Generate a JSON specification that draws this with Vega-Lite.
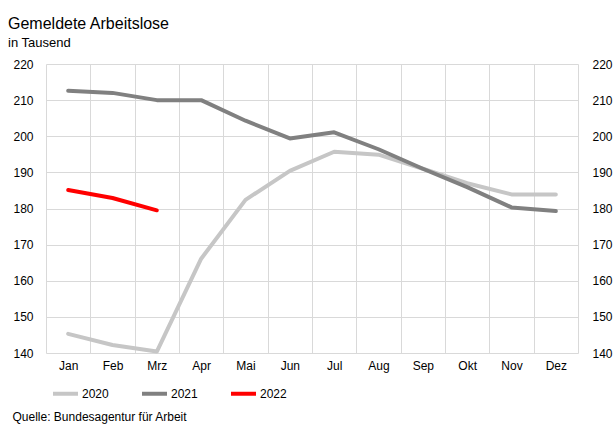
{
  "$schema": "https://vega.github.io/schema/vega-lite/v6.json",
  "autosize": "none",
  "width": 532,
  "height": 289,
  "padding": {"left": 46, "top": 64, "right": 36, "bottom": 79},
  "background": "white",
  "config": {
    "font": "Liberation Sans",
    "view": {"stroke": null},
    "axis": {"labelFont": "Liberation Sans", "labelColor": "#000", "labelFontSize": 12, "domain": false, "ticks": false, "gridColor": "#d9d9d9", "gridWidth": 1, "gridOpacity": 1}
  },
  "title": {
    "text": "Gemeldete Arbeitslose",
    "subtitle": "in Tausend",
    "anchor": "start",
    "frame": "group",
    "dx": -38,
    "offset": 8,
    "fontSize": 16,
    "fontWeight": "normal",
    "color": "#000",
    "subtitleFontSize": 13,
    "subtitleColor": "#000",
    "subtitlePadding": 5
  },
  "data": {
    "values": [
      {"Monat": "Jan", "Jahr": "2020", "Wert": 145.3},
      {"Monat": "Feb", "Jahr": "2020", "Wert": 142.2},
      {"Monat": "Mrz", "Jahr": "2020", "Wert": 140.4},
      {"Monat": "Apr", "Jahr": "2020", "Wert": 166.1},
      {"Monat": "Mai", "Jahr": "2020", "Wert": 182.4},
      {"Monat": "Jun", "Jahr": "2020", "Wert": 190.4},
      {"Monat": "Jul", "Jahr": "2020", "Wert": 195.7},
      {"Monat": "Aug", "Jahr": "2020", "Wert": 194.9},
      {"Monat": "Sep", "Jahr": "2020", "Wert": 191.0},
      {"Monat": "Okt", "Jahr": "2020", "Wert": 187.0},
      {"Monat": "Nov", "Jahr": "2020", "Wert": 183.9},
      {"Monat": "Dez", "Jahr": "2020", "Wert": 183.9},
      {"Monat": "Jan", "Jahr": "2021", "Wert": 212.6},
      {"Monat": "Feb", "Jahr": "2021", "Wert": 212.0},
      {"Monat": "Mrz", "Jahr": "2021", "Wert": 210.0},
      {"Monat": "Apr", "Jahr": "2021", "Wert": 210.0},
      {"Monat": "Mai", "Jahr": "2021", "Wert": 204.3},
      {"Monat": "Jun", "Jahr": "2021", "Wert": 199.4},
      {"Monat": "Jul", "Jahr": "2021", "Wert": 201.1},
      {"Monat": "Aug", "Jahr": "2021", "Wert": 196.4},
      {"Monat": "Sep", "Jahr": "2021", "Wert": 191.0},
      {"Monat": "Okt", "Jahr": "2021", "Wert": 185.9},
      {"Monat": "Nov", "Jahr": "2021", "Wert": 180.3},
      {"Monat": "Dez", "Jahr": "2021", "Wert": 179.3},
      {"Monat": "Jan", "Jahr": "2022", "Wert": 185.1},
      {"Monat": "Feb", "Jahr": "2022", "Wert": 182.9},
      {"Monat": "Mrz", "Jahr": "2022", "Wert": 179.5}
    ]
  },
  "layer": [
    {
      "mark": {"type": "line", "strokeWidth": 4, "strokeCap": "round", "strokeJoin": "round"},
      "encoding": {
        "x": {
          "field": "Monat", "type": "nominal",
          "sort": ["Jan","Feb","Mrz","Apr","Mai","Jun","Jul","Aug","Sep","Okt","Nov","Dez"],
          "bandPosition": 0.5,
          "scale": {"type": "band", "paddingInner": 0, "paddingOuter": 0},
          "axis": {
            "grid": true, "tickBand": "extent", "labelAngle": 0, "labelPadding": 7,
            "title": "Quelle: Bundesagentur für Arbeit",
            "titleX": -34, "titleY": 67, "titleAnchor": "start", "titleAlign": "left",
            "titleBaseline": "alphabetic", "titleFontWeight": "normal", "titleFontSize": 12,
            "titleFont": "Liberation Sans", "titleColor": "#000"
          }
        },
        "y": {
          "field": "Wert", "type": "quantitative",
          "scale": {"domain": [140, 220], "nice": false, "zero": false},
          "axis": {"orient": "left", "values": [140,150,160,170,180,190,200,210,220], "grid": true, "labelPadding": 13, "title": null}
        },
        "color": {
          "field": "Jahr", "type": "nominal",
          "scale": {"domain": ["2020","2021","2022"], "range": ["#c6c6c6","#808080","#ff0000"]},
          "legend": {
            "orient": "none", "direction": "horizontal", "legendX": 5, "legendY": 315,
            "title": null, "symbolType": "stroke", "symbolSize": 625, "symbolStrokeWidth": 4,
            "labelFontSize": 12, "labelColor": "#000", "labelFont": "Liberation Sans", "labelOffset": 2, "columnPadding": 25
          }
        }
      }
    },
    {
      "mark": {"type": "line", "opacity": 0},
      "encoding": {
        "x": {"field": "Monat", "type": "nominal", "sort": ["Jan","Feb","Mrz","Apr","Mai","Jun","Jul","Aug","Sep","Okt","Nov","Dez"], "bandPosition": 0.5},
        "y": {
          "field": "Wert", "type": "quantitative",
          "scale": {"domain": [140, 220], "nice": false, "zero": false},
          "axis": {"orient": "right", "values": [140,150,160,170,180,190,200,210,220], "grid": false, "labelPadding": 14, "title": null}
        },
        "detail": {"field": "Jahr"}
      }
    }
  ],
  "resolve": {"axis": {"y": "independent"}}
}
